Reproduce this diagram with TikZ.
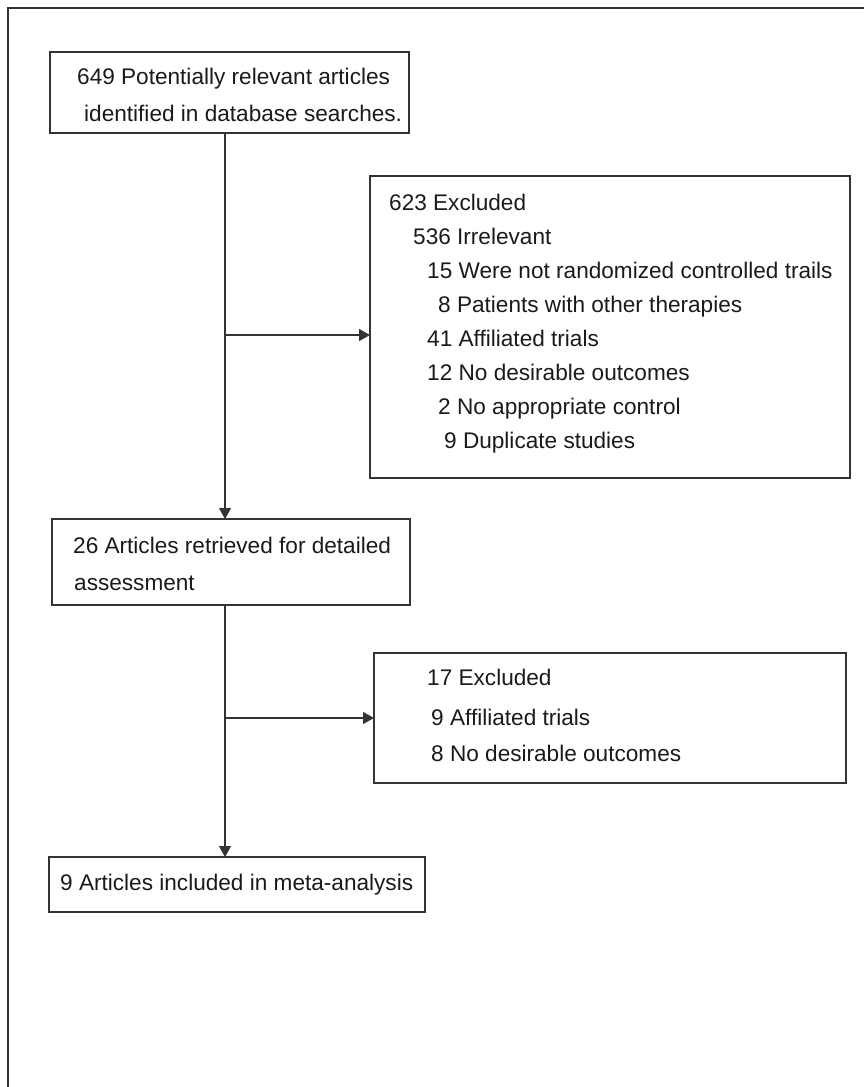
\documentclass[tikz,border=0pt]{standalone}
\usepackage{fontspec}
\setmainfont{Liberation Sans}
\usetikzlibrary{arrows.meta}
\definecolor{ln}{HTML}{333333}
\definecolor{tx}{HTML}{1A1A1A}
\tikzset{
  box/.style={draw=ln, line width=1.3pt, inner sep=0pt, outer sep=0pt, anchor=north west},
  txt/.style={anchor=base west, inner sep=0pt, text=tx, font=\fontsize{22.6}{27}\selectfont},
  arr/.style={draw=ln, line width=1.3pt, -{Triangle[length=11pt,width=12pt]}},
  frame/.style={draw=ln, line width=1.5pt}
}
\begin{document}
\begin{tikzpicture}[x=1pt,y=-1pt]
\useasboundingbox (0,0) rectangle (864,1087);
\draw[frame] (864,8) -- (8,8) -- (8,1087);

% boxes
\node[box, minimum width=359pt, minimum height=81pt] (b1) at (50,52) {};
\node[box, minimum width=480pt, minimum height=302pt] (e1) at (370,176) {};
\node[box, minimum width=358pt, minimum height=86pt] (b2) at (52,519) {};
\node[box, minimum width=472pt, minimum height=130pt] (e2) at (374,653) {};
\node[box, minimum width=376pt, minimum height=55pt] (b3) at (49,857) {};

% texts
\node[txt] (t11) at (77,84) {649 Potentially relevant articles};
\node[txt] (t12) at (84,121) {identified in database searches.};

\node[txt] (e11) at (389,210) {623 Excluded};
\node[txt] (e12) at (413,244) {536 Irrelevant};
\node[txt] (e13) at (427,278) {15 Were not randomized controlled trails};
\node[txt] (e14) at (438,312) {8 Patients with other therapies};
\node[txt] (e15) at (427,346) {41 Affiliated trials};
\node[txt] (e16) at (427,380) {12 No desirable outcomes};
\node[txt] (e17) at (438,414) {2 No appropriate control};
\node[txt] (e18) at (444,448) {9 Duplicate studies};

\node[txt] (t21) at (73,553) {26 Articles retrieved for detailed};
\node[txt] (t22) at (74,590) {assessment};

\node[txt] (e21) at (427,685) {17 Excluded};
\node[txt] (e22) at (431,725) {9 Affiliated trials};
\node[txt] (e23) at (431,761) {8 No desirable outcomes};

\node[txt] (t31) at (60,890) {9 Articles included in meta-analysis};

% connectors
\coordinate (tr) at (225,0);
\coordinate (j1) at (225,335);
\coordinate (j2) at (225,718);
\draw[arr] (b1.south -| tr) -- (b2.north -| tr);
\draw[arr] (b2.south -| tr) -- (b3.north -| tr);
\draw[arr] (j1) -- (j1 -| e1.west);
\draw[arr] (j2) -- (j2 -| e2.west);
\end{tikzpicture}
\end{document}
